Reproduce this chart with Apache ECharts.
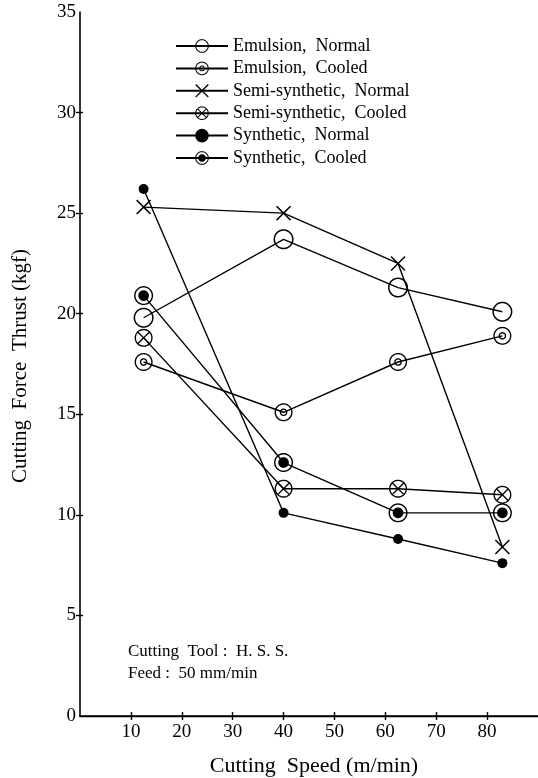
<!DOCTYPE html>
<html>
<head>
<meta charset="utf-8">
<script src="https://cdn.jsdelivr.net/npm/echarts@6/dist/echarts.min.js"></script>
<style>
html,body{margin:0;padding:0;background:#fff;}
#c{width:538px;height:778px;}
</style>
</head>
<body>
<div id="c"></div>
<script>
// ---- data ----
const speeds = [12.5, 40, 62.5, 83];
const emulsionNormal = [19.8, 23.7, 21.3, 20.1];
const emulsionCooled = [17.6, 15.1, 17.6, 18.9];
const semiNormal = [25.3, 25.0, 22.5, 8.4];
const semiCooled = [18.8, 11.3, 11.3, 11.0];
const synthNormal = [26.2, 10.1, 8.8, 7.6];
const synthCooled = [20.9, 12.6, 10.1, 10.1];
const seriesNames = ['Emulsion,  Normal', 'Emulsion,  Cooled', 'Semi-synthetic,  Normal', 'Semi-synthetic,  Cooled', 'Synthetic,  Normal', 'Synthetic,  Cooled'];
const xTicks = [10, 20, 30, 40, 50, 60, 70, 80];
const yTicks = [0, 5, 10, 15, 20, 25, 30, 35];

// ---- symbol path helpers ----
function area(pts){let s=0;for(let i=0;i<pts.length;i++){const a=pts[i],b=pts[(i+1)%pts.length];s+=a[0]*b[1]-b[0]*a[1];}return s;}
function toPath(pts, positive){
  let p = pts.slice();
  if ((area(p) > 0) !== positive) p.reverse();
  return 'M' + p.map(q => q[0].toFixed(3) + ' ' + q[1].toFixed(3)).join(' L') + ' Z ';
}
function circ(r, positive, cx=10, cy=10, n=56){
  const pts=[];for(let i=0;i<n;i++){const t=i/n*Math.PI*2;pts.push([cx+r*Math.cos(t),cy+r*Math.sin(t)]);}
  return toPath(pts, positive);
}
function ring(R, t){ return circ(R, true) + circ(R - t, false); }
function xPoly(w, L){
  const base=[[-w,L],[w,L],[w,w],[L,w],[L,-w],[w,-w],[w,-L],[-w,-L],[-w,-w],[-L,-w],[-L,w],[-w,w]];
  const c=Math.SQRT1_2;
  const pts=base.map(([x,y])=>[10+(x*c-y*c),10+(x*c+y*c)]);
  return toPath(pts, true);
}
const T = 1.5;
const symOpen = 'path://' + ring(10, T);
const symDouble = 'path://' + ring(10, T) + ring(4.2, 1.5);
const symOX = 'path://' + ring(10, T) + xPoly(0.75, 8.9);
const symODot = 'path://' + ring(10, T) + circ(5.6, true);
const symX = 'path://' + xPoly(0.75, 10);

function pairs(vals){ return speeds.map((s,i)=>[s, vals[i]]); }

const FONT = '"Liberation Serif", "DejaVu Serif", serif';
const lineStyle = {color:'#000', width:1.4};
const itemStyle = {color:'#000', borderWidth:0};

function mk(name, vals, symbol, size){
  return {name, type:'line', data:pairs(vals), symbol, symbolSize:size,
    lineStyle, itemStyle, showSymbol:true, animation:false, z:3,
    emphasis:{disabled:true}};
}

const chart = echarts.init(document.getElementById('c'), null, {renderer:'canvas'});
chart.setOption({
  animation:false,
  backgroundColor:'#fff',
  grid:{left:80, right:0, top:12, bottom:62, containLabel:false},
  legend:{
    orient:'vertical', left:170, top:32, itemWidth:52, itemHeight:17, itemGap:4.4,
    textStyle:{fontFamily:FONT, fontSize:18, color:'#000'},
    selectedMode:false,
    data:seriesNames
  },
  xAxis:[
    {type:'value', min:0, max:90, interval:10, position:'bottom',
     axisLine:{lineStyle:{color:'#000', width:1.6}},
     axisTick:{show:true, length:4, lineStyle:{color:'#000', width:1.4}, customValues:xTicks},
     axisLabel:{color:'#000', fontFamily:FONT, fontSize:19, margin:7, customValues:xTicks},
     splitLine:{show:false}},
    {type:'value', min:0, max:90, interval:10, position:'top',
     axisLine:{lineStyle:{color:'#000', width:1.4}}, axisTick:{show:false}, axisLabel:{show:false}, splitLine:{show:false}},
    {type:'value', min:0, max:90, interval:10, position:'bottom',
     axisLine:{show:false},
     axisTick:{show:true, inside:true, length:4, lineStyle:{color:'#000', width:1.4}, customValues:xTicks},
     axisLabel:{show:false}, splitLine:{show:false}}
  ],
  yAxis:[
    {type:'value', min:0, max:35, interval:5, position:'left',
     axisLine:{show:true, lineStyle:{color:'#000', width:1.6}},
     axisTick:{show:true, length:4, lineStyle:{color:'#000', width:1.4}, customValues:yTicks.slice(1,-1)},
     axisLabel:{color:'#000', fontFamily:FONT, fontSize:19, margin:4, customValues:yTicks},
     splitLine:{show:false}},
    {type:'value', min:0, max:35, interval:5, position:'left',
     axisLine:{show:false},
     axisTick:{show:true, inside:true, length:3, lineStyle:{color:'#000', width:1.4}, customValues:yTicks.slice(1,-1)},
     axisLabel:{show:false}, splitLine:{show:false}}
  ],
  series:[
    mk(seriesNames[0], emulsionNormal, symOpen, 20),
    mk(seriesNames[1], emulsionCooled, symDouble, 18),
    mk(seriesNames[2], semiNormal, symX, 15),
    mk(seriesNames[3], semiCooled, symOX, 18),
    mk(seriesNames[4], synthNormal, 'circle', 10),
    mk(seriesNames[5], synthCooled, symODot, 19)
  ],
  graphic:[
    {type:'text', x:20, y:366, rotation:Math.PI/2,
     style:{text:'Cutting  Force  Thrust (kgf)', font:'21px ' + FONT, fill:'#000', textAlign:'center', textVerticalAlign:'middle'}},
    {type:'text', x:314, y:766,
     style:{text:'Cutting  Speed (m/min)', font:'22px ' + FONT, fill:'#000', textAlign:'center', textVerticalAlign:'middle'}},
    {type:'text', x:128, y:652,
     style:{text:'Cutting  Tool :  H. S. S.', font:'17px ' + FONT, fill:'#000', textAlign:'left', textVerticalAlign:'middle'}},
    {type:'text', x:128, y:674,
     style:{text:'Feed :  50 mm/min', font:'17px ' + FONT, fill:'#000', textAlign:'left', textVerticalAlign:'middle'}}
  ]
});
</script>
</body>
</html>
